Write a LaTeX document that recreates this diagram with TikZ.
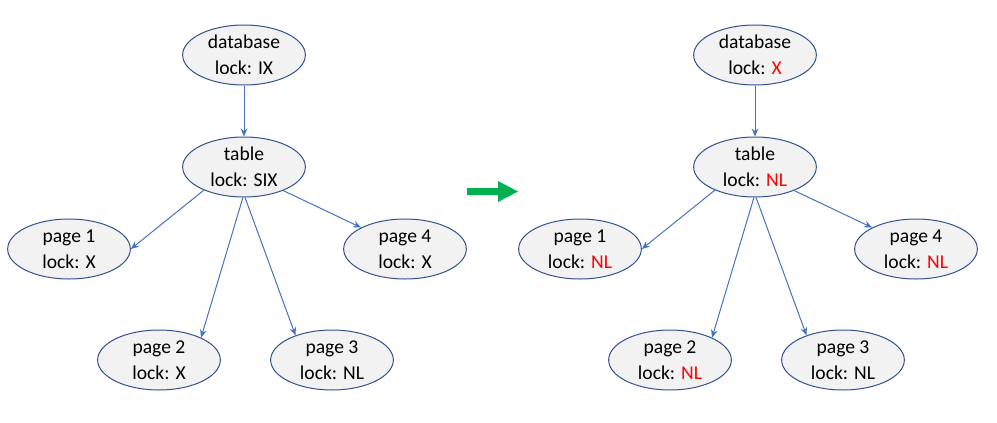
\documentclass[tikz,border=0pt]{standalone}
\usepackage{fontspec}
\setmainfont{Carlito}
\usetikzlibrary{shapes.geometric,arrows.meta}
\definecolor{bordc}{HTML}{2F528F}
\definecolor{fillc}{HTML}{F2F2F2}
\definecolor{linec}{HTML}{4472C4}
\definecolor{greenc}{HTML}{00B050}
\definecolor{redc}{HTML}{FF0000}
\tikzset{
  lk/.style={ellipse, draw=bordc, fill=fillc, line width=0.75pt, minimum width=92pt, minimum height=45pt, inner sep=0pt, align=center, font=\fontsize{14.7}{19.5}\selectfont},
  conn/.style={draw=linec, line width=0.75pt, -{Stealth[length=6pt,width=5pt]}},
}
\newcommand{\rd}[1]{\textcolor{redc}{#1}}
\begin{document}
\begin{tikzpicture}[x=0.75pt,y=-0.75pt]
\useasboundingbox (0,0) rectangle (997,422);
% left tree
\node[lk] (Ldb) at (244,55) {database\\lock: IX};
\node[lk] (Ltb) at (244,167) {table\\lock: SIX};
\node[lk] (Lp1) at (69,249) {page 1\\lock: X};
\node[lk] (Lp4) at (405,249) {page 4\\lock: X};
\node[lk] (Lp2) at (159,360) {page 2\\lock: X};
\node[lk] (Lp3) at (332,360) {page 3\\lock: NL};
\draw[conn] (Ldb.south) -- (Ltb.north);
\draw[conn] (Ltb.210.6) -- (Lp1.east);
\draw[conn] (Ltb.329.4) -- (Lp4.154.5);
\draw[conn] (Ltb.268) -- (Lp2.28.6);
\draw[conn] (Ltb.272) -- (Lp3.146);
% right tree
\node[lk] (Rdb) at (755,55) {database\\lock: \rd{X}};
\node[lk] (Rtb) at (755,167) {table\\lock: \rd{NL}};
\node[lk] (Rp1) at (580,249) {page 1\\lock: \rd{NL}};
\node[lk] (Rp4) at (916,249) {page 4\\lock: \rd{NL}};
\node[lk] (Rp2) at (670,360) {page 2\\lock: \rd{NL}};
\node[lk] (Rp3) at (843,360) {page 3\\lock: NL};
\draw[conn] (Rdb.south) -- (Rtb.north);
\draw[conn] (Rtb.210.6) -- (Rp1.east);
\draw[conn] (Rtb.329.4) -- (Rp4.154.5);
\draw[conn] (Rtb.268) -- (Rp2.28.6);
\draw[conn] (Rtb.272) -- (Rp3.146);
% green block arrow
\fill[greenc] (467,188) -- (498,188) -- (498,181) -- (518,191.5) -- (498,202) -- (498,195) -- (467,195) -- cycle;
\end{tikzpicture}
\end{document}
